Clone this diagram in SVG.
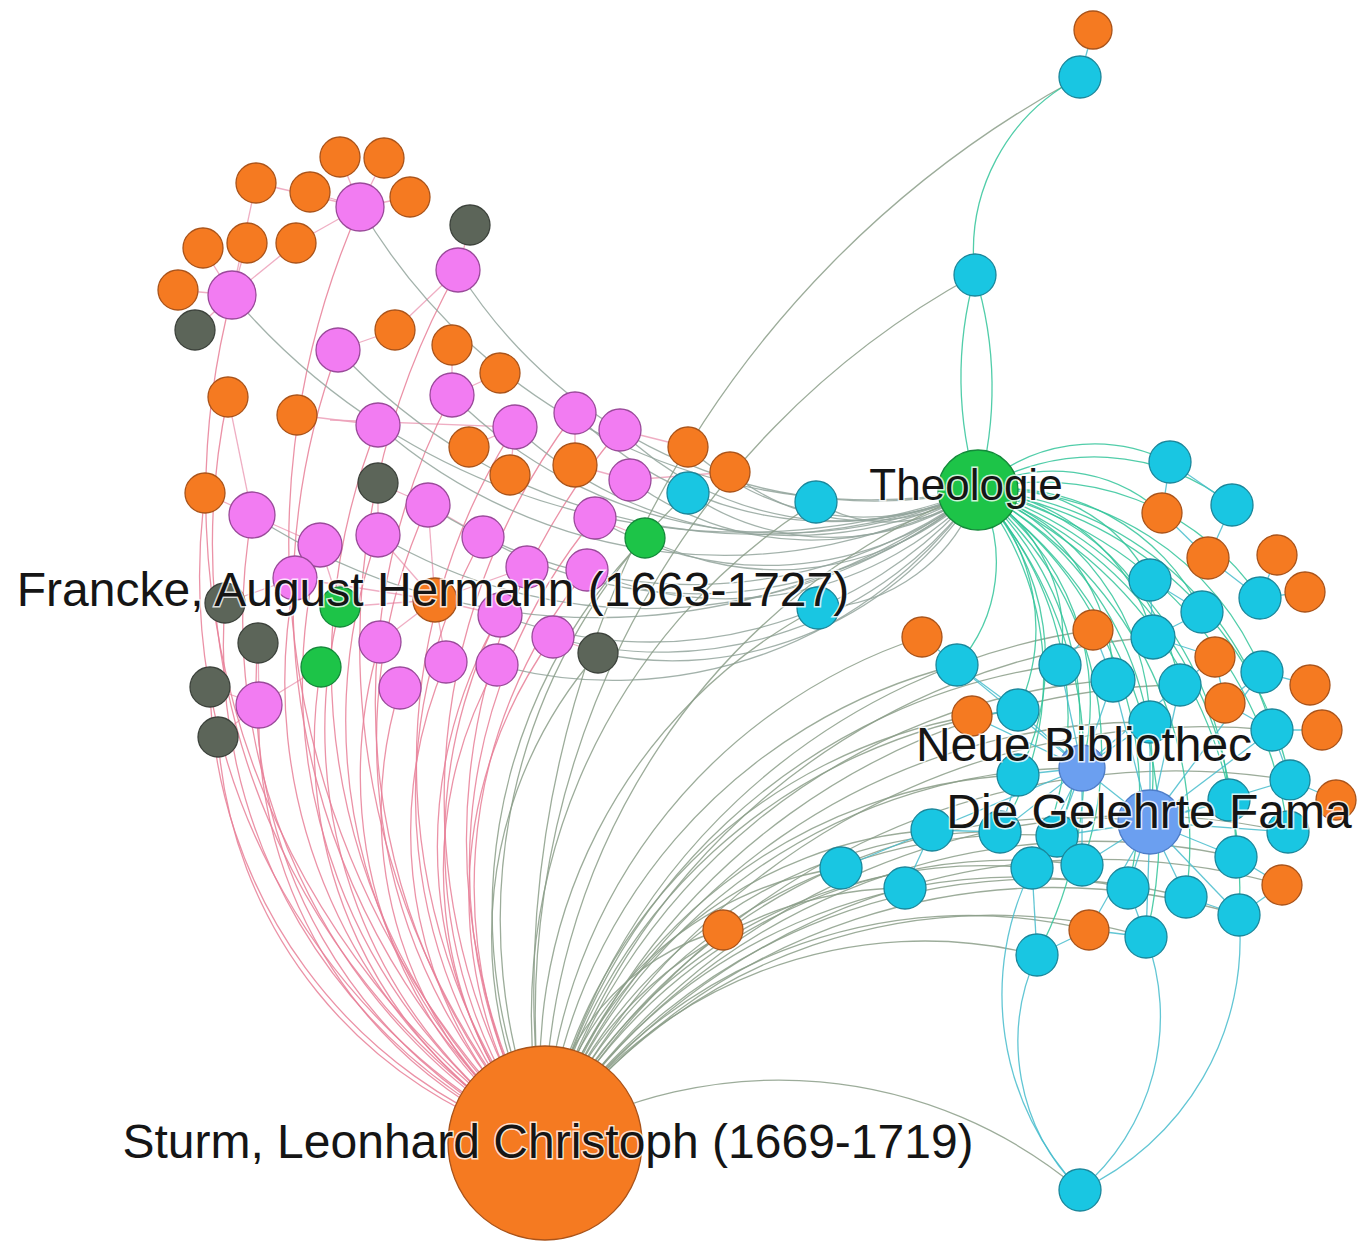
<svg xmlns="http://www.w3.org/2000/svg" width="1360" height="1246" viewBox="0 0 1360 1246">
<style>
.e path,.e line{fill:none;stroke-width:1.3;stroke-opacity:.85}
.ps{stroke:#e77f98}
.sg{stroke:#8b9d88}
.tt{stroke:#33c49a}
.tg{stroke:#93a59c}
.cc{stroke:#47bccc}
.pp{stroke:#eca0b8}
.or{fill:#f57a21;stroke:#a9531a;stroke-width:1.3}
.pk{fill:#f27cf2;stroke:#9a4a9a;stroke-width:1.3}
.cy{fill:#19c6e2;stroke:#1a879b;stroke-width:1.3}
.dk{fill:#5c6559;stroke:#3c423b;stroke-width:1.3}
.gr{fill:#1dc448;stroke:#14893a;stroke-width:1.3}
.bl{fill:#6b9ff0;stroke:#4d7cc7;stroke-width:1.3}
.lb{font-family:"Liberation Sans",Arial,sans-serif;font-size:48px;fill:#151515;stroke:#fff;stroke-width:3;stroke-opacity:.8;paint-order:stroke;text-anchor:middle}
</style>
<rect width="1360" height="1246" fill="#fff"/>
<g id="connectors" class="e">
<g class="pp">
<line x1="340" y1="157" x2="360" y2="207"/><line x1="384" y1="158" x2="360" y2="207"/><line x1="310" y1="192" x2="360" y2="207"/><line x1="410" y1="197" x2="360" y2="207"/><line x1="256" y1="183" x2="360" y2="207"/><line x1="296" y1="243" x2="360" y2="207"/>
<line x1="203" y1="248" x2="232" y2="295"/><line x1="247" y1="243" x2="232" y2="295"/><line x1="296" y1="243" x2="232" y2="295"/><line x1="178" y1="290" x2="232" y2="295"/><line x1="195" y1="330" x2="232" y2="295"/><line x1="256" y1="183" x2="232" y2="295"/>
<line x1="470" y1="225" x2="458" y2="270"/><line x1="395" y1="330" x2="338" y2="350"/><line x1="395" y1="330" x2="458" y2="270"/><line x1="452" y1="345" x2="452" y2="395"/><line x1="500" y1="373" x2="452" y2="395"/><line x1="297" y1="415" x2="378" y2="425"/>
<line x1="228" y1="397" x2="252" y2="515"/><line x1="205" y1="493" x2="252" y2="515"/><line x1="469" y1="447" x2="515" y2="427"/><line x1="510" y1="475" x2="515" y2="427"/><line x1="575" y1="465" x2="575" y2="413"/><line x1="575" y1="465" x2="630" y2="480"/>
<line x1="688" y1="447" x2="620" y2="430"/><line x1="730" y1="472" x2="630" y2="480"/><line x1="378" y1="483" x2="378" y2="535"/><line x1="378" y1="483" x2="428" y2="505"/><line x1="428" y1="505" x2="483" y2="537"/>
<line x1="435" y1="600" x2="500" y2="615"/><line x1="435" y1="600" x2="380" y2="642"/><line x1="435" y1="600" x2="446" y2="662"/><line x1="435" y1="600" x2="527" y2="567"/><line x1="435" y1="600" x2="378" y2="535"/><line x1="435" y1="600" x2="428" y2="505"/><line x1="435" y1="600" x2="295" y2="578"/><line x1="435" y1="600" x2="340" y2="607"/>
<line x1="225" y1="603" x2="295" y2="578"/><line x1="258" y1="643" x2="259" y2="705"/><line x1="210" y1="687" x2="259" y2="705"/><line x1="218" y1="737" x2="259" y2="705"/><line x1="321" y1="667" x2="259" y2="705"/><line x1="645" y1="538" x2="595" y2="518"/><line x1="598" y1="653" x2="553" y2="637"/><line x1="320" y1="545" x2="340" y2="607"/><line x1="252" y1="515" x2="320" y2="545"/><line x1="330" y1="420" x2="515" y2="427"/>
</g>
<g class="ps">
<path d="M545 1143A830 830 0 0 1 360 207"/><path d="M545 1143A786 786 0 0 1 232 295"/><path d="M545 1143A763 763 0 0 1 458 270"/><path d="M545 1143A713 713 0 0 1 338 350"/><path d="M545 1143A656 656 0 0 1 452 395"/><path d="M545 1143A641 641 0 0 1 378 425"/><path d="M545 1143A624 624 0 0 1 515 427"/><path d="M545 1143A636 636 0 0 1 575 413"/><path d="M545 1143A624 624 0 0 1 620 430"/><path d="M545 1143A603 603 0 0 1 252 515"/><path d="M545 1143A565 565 0 0 1 428 505"/><path d="M545 1143A548 548 0 0 1 378 535"/><path d="M545 1143A556 556 0 0 1 320 545"/><path d="M545 1143A530 530 0 0 1 483 537"/><path d="M545 1143A545 545 0 0 1 595 518"/><path d="M545 1143A501 501 0 0 1 527 567"/><path d="M545 1143A500 500 0 0 1 587 570"/><path d="M545 1143A538 538 0 0 1 295 578"/><path d="M545 1143A461 461 0 0 1 500 615"/><path d="M545 1143A459 459 0 0 1 380 642"/><path d="M545 1143A427 427 0 0 1 446 662"/><path d="M545 1143A418 418 0 0 1 497 665"/><path d="M545 1143A440 440 0 0 1 553 637"/><path d="M545 1143A455 455 0 0 1 259 705"/><path d="M545 1143A416 416 0 0 1 400 688"/><path d="M545 1143A502 502 0 0 1 258 643"/><path d="M545 1143A492 492 0 0 1 210 687"/><path d="M545 1143A453 453 0 0 1 218 737"/><path d="M545 1143A458 458 0 0 1 321 667"/><path d="M545 1143A499 499 0 0 1 340 607"/><path d="M545 1143A546 546 0 0 1 225 603"/><path d="M545 1143A705 705 0 0 1 228 397"/><path d="M545 1143A638 638 0 0 1 205 493"/>
</g>
<g class="tg">
<path d="M978 490A592 592 0 0 1 360 207"/><path d="M978 490A671 671 0 0 1 232 295"/><path d="M978 490A491 491 0 0 1 458 270"/><path d="M978 490A570 570 0 0 1 338 350"/><path d="M978 490A465 465 0 0 1 452 395"/><path d="M978 490A525 525 0 0 1 378 425"/><path d="M978 490A406 406 0 0 1 515 427"/><path d="M978 490A357 357 0 0 1 575 413"/><path d="M978 490A316 316 0 0 1 620 430"/><path d="M978 490A303 303 0 0 1 630 480"/><path d="M978 490A632 632 0 0 1 252 515"/><path d="M978 490A479 479 0 0 1 428 505"/><path d="M978 490A524 524 0 0 1 378 535"/><path d="M978 490A432 432 0 0 1 483 537"/><path d="M978 490A334 334 0 0 1 595 518"/><path d="M978 490A347 347 0 0 1 587 570"/><path d="M978 490A255 255 0 0 1 688 447"/><path d="M978 490A217 217 0 0 1 730 472"/><path d="M978 490A252 252 0 0 1 688 493"/><path d="M978 490A141 141 0 0 1 816 502"/><path d="M978 490A292 292 0 0 1 645 538"/><path d="M978 490A173 173 0 0 1 818 608"/><path d="M978 490A391 391 0 0 1 553 637"/><path d="M978 490A359 359 0 0 1 598 653"/><path d="M978 490A430 430 0 0 1 500 615"/><path d="M978 490A445 445 0 0 1 497 665"/>
</g>
<g class="sg">
<path d="M545 1143A351 351 0 0 1 841 868"/><path d="M545 1143A384 384 0 0 1 905 888"/><path d="M545 1143A433 433 0 0 1 932 830"/><path d="M545 1143A479 479 0 0 1 1000 832"/><path d="M545 1143A519 519 0 0 1 1057 836"/><path d="M545 1143A521 521 0 0 1 1018 775"/><path d="M545 1143A558 558 0 0 1 1018 710"/><path d="M545 1143A549 549 0 0 1 957 665"/><path d="M545 1143A549 549 0 0 1 922 637"/><path d="M545 1143A525 525 0 0 1 972 716"/><path d="M545 1143A486 486 0 0 1 1032 868"/><path d="M545 1143A526 526 0 0 1 1082 865"/><path d="M545 1143A553 553 0 0 1 1128 888"/><path d="M545 1143A597 597 0 0 1 1186 897"/><path d="M545 1143A650 650 0 0 1 1236 857"/><path d="M545 1143A635 635 0 0 1 1239 915"/><path d="M545 1143A508 508 0 0 1 1089 930"/><path d="M545 1143A553 553 0 0 1 1146 937"/><path d="M545 1143A458 458 0 0 1 1037 955"/><path d="M545 1143A242 242 0 0 1 723 930"/><path d="M545 1143A570 570 0 0 1 1082 768"/><path d="M545 1143A596 596 0 0 1 1150 822"/><path d="M545 1143A611 611 0 0 1 1060 665"/><path d="M545 1143A637 637 0 0 1 1113 680"/><path d="M545 1143A641 641 0 0 1 1150 722"/><path d="M545 1143A523 523 0 0 1 818 608"/><path d="M545 1143A605 605 0 0 1 816 502"/><path d="M545 1143A579 579 0 0 1 688 493"/><path d="M545 1143A429 429 0 0 1 598 653"/><path d="M545 1143A1038 1038 0 0 1 1080 77"/><path d="M545 1143A843 843 0 0 1 975 275"/><path d="M545 1143A467 467 0 0 1 1080 1190"/><path d="M545 1143A679 679 0 0 1 1282 885"/><path d="M545 1143A700 700 0 0 1 1288 832"/><path d="M545 1143A721 721 0 0 1 1290 780"/><path d="M545 1143A727 727 0 0 1 1272 730"/><path d="M545 1143A681 681 0 0 1 1180 685"/><path d="M545 1143A688 688 0 0 1 1153 637"/><path d="M545 1143A653 653 0 0 1 1093 630"/><path d="M545 1143A533 533 0 0 1 645 538"/><path d="M545 1143A682 682 0 0 1 978 490"/>
</g>
<g class="tt">
<path d="M978 490A169 169 0 0 1 1170 462"/><path d="M978 490A221 221 0 0 1 1232 505"/><path d="M978 490A161 161 0 0 1 1162 513"/><path d="M978 490A169 169 0 0 1 1150 580"/><path d="M978 490A222 222 0 0 1 1202 612"/><path d="M978 490A263 263 0 0 1 1260 598"/><path d="M978 490A199 199 0 0 1 1153 637"/><path d="M978 490A168 168 0 0 1 1060 665"/><path d="M978 490A203 203 0 0 1 1113 680"/><path d="M978 490A244 244 0 0 1 1180 685"/><path d="M978 490A293 293 0 0 1 1262 672"/><path d="M978 490A195 195 0 0 1 1018 710"/><path d="M978 490A251 251 0 0 1 1150 722"/><path d="M978 490A330 330 0 0 1 1272 730"/><path d="M978 490A371 371 0 0 1 1290 780"/><path d="M978 490A347 347 0 0 1 1229 800"/><path d="M978 490A402 402 0 0 1 1288 832"/><path d="M978 490A390 390 0 0 1 1236 857"/><path d="M978 490A398 398 0 0 1 1186 897"/><path d="M978 490A370 370 0 0 1 1128 888"/><path d="M978 490A434 434 0 0 1 1239 915"/><path d="M978 490A416 416 0 0 1 1146 937"/><path d="M978 490A338 338 0 0 1 1082 865"/><path d="M978 490A332 332 0 0 1 1032 868"/><path d="M978 490A153 153 0 0 1 957 665"/><path d="M978 490A258 258 0 0 1 1082 768"/><path d="M978 490A325 325 0 0 1 1150 822"/><path d="M978 490A250 250 0 0 1 1018 775"/><path d="M978 490A298 298 0 0 1 1000 832"/><path d="M978 490A309 309 0 0 1 1057 836"/><path d="M978 490A408 408 0 0 1 1037 955"/><path d="M978 490A380 380 0 0 1 975 275"/><path d="M975 275A380 380 0 0 1 978 490"/><path d="M975 275A195 195 0 0 1 1080 77"/>
</g>
<g class="cc">
<line x1="1080" y1="77" x2="1093" y2="30"/>
<line x1="1170" y1="462" x2="1162" y2="513"/><line x1="1170" y1="462" x2="1232" y2="505"/><line x1="1232" y1="505" x2="1208" y2="558"/><line x1="1162" y1="513" x2="1208" y2="558"/><line x1="1208" y1="558" x2="1260" y2="598"/><line x1="1277" y1="555" x2="1260" y2="598"/><line x1="1305" y1="592" x2="1260" y2="598"/><line x1="1150" y1="580" x2="1202" y2="612"/><line x1="1202" y1="612" x2="1153" y2="637"/><line x1="1150" y1="580" x2="1153" y2="637"/>
<line x1="1093" y1="630" x2="1113" y2="680"/><line x1="1093" y1="630" x2="1060" y2="665"/><line x1="922" y1="637" x2="957" y2="665"/><line x1="1153" y1="637" x2="1215" y2="657"/><line x1="1215" y1="657" x2="1180" y2="685"/><line x1="1215" y1="657" x2="1225" y2="703"/><line x1="1262" y1="672" x2="1310" y2="685"/><line x1="1262" y1="672" x2="1225" y2="703"/><line x1="1225" y1="703" x2="1272" y2="730"/><line x1="1272" y1="730" x2="1322" y2="730"/><line x1="1272" y1="730" x2="1290" y2="780"/><line x1="1290" y1="780" x2="1336" y2="800"/><line x1="972" y1="716" x2="1018" y2="710"/><line x1="957" y1="665" x2="1018" y2="710"/>
<line x1="1082" y1="768" x2="1060" y2="665"/><line x1="1082" y1="768" x2="1113" y2="680"/><line x1="1082" y1="768" x2="1018" y2="710"/><line x1="1082" y1="768" x2="1150" y2="722"/><line x1="1082" y1="768" x2="1018" y2="775"/><line x1="1082" y1="768" x2="1000" y2="832"/><line x1="1082" y1="768" x2="1057" y2="836"/><line x1="1082" y1="768" x2="1032" y2="868"/><line x1="1082" y1="768" x2="1082" y2="865"/><line x1="1082" y1="768" x2="1150" y2="822"/><line x1="1082" y1="768" x2="1180" y2="685"/><line x1="1082" y1="768" x2="957" y2="665"/><line x1="1082" y1="768" x2="932" y2="830"/><line x1="1082" y1="768" x2="972" y2="716"/>
<line x1="1150" y1="822" x2="1150" y2="722"/><line x1="1150" y1="822" x2="1180" y2="685"/><line x1="1150" y1="822" x2="1229" y2="800"/><line x1="1150" y1="822" x2="1288" y2="832"/><line x1="1150" y1="822" x2="1128" y2="888"/><line x1="1150" y1="822" x2="1186" y2="897"/><line x1="1150" y1="822" x2="1236" y2="857"/><line x1="1150" y1="822" x2="1082" y2="865"/><line x1="1150" y1="822" x2="1146" y2="937"/><line x1="1150" y1="822" x2="1057" y2="836"/><line x1="1150" y1="822" x2="1290" y2="780"/><line x1="1150" y1="822" x2="1272" y2="730"/><line x1="1150" y1="822" x2="1262" y2="672"/><line x1="1150" y1="822" x2="1113" y2="680"/><line x1="1150" y1="822" x2="1089" y2="930"/><line x1="1150" y1="822" x2="1239" y2="915"/>
<line x1="1236" y1="857" x2="1282" y2="885"/><line x1="1282" y1="885" x2="1239" y2="915"/><line x1="1186" y1="897" x2="1239" y2="915"/><line x1="1089" y1="930" x2="1146" y2="937"/><line x1="1089" y1="930" x2="1037" y2="955"/><line x1="1032" y1="868" x2="1037" y2="955"/><line x1="932" y1="830" x2="1000" y2="832"/><line x1="841" y1="868" x2="932" y2="830"/><line x1="905" y1="888" x2="932" y2="830"/><line x1="1128" y1="888" x2="1146" y2="937"/><line x1="1018" y1="775" x2="1000" y2="832"/>
<path d="M1080 1190A283 283 0 0 1 1032 868"/><path d="M1080 1190A208 208 0 0 1 1037 955"/><path d="M1146 937A227 227 0 0 1 1080 1190"/><path d="M1239 915A276 276 0 0 1 1080 1190"/>
</g>
</g>
<g id="nodes">
<g id="n-o1"><circle class="or" cx="340" cy="157" r="20"/></g>
<g id="n-o2"><circle class="or" cx="384" cy="158" r="20"/></g>
<g id="n-o3"><circle class="or" cx="256" cy="183" r="20"/></g>
<g id="n-o4"><circle class="or" cx="310" cy="192" r="20"/></g>
<g id="n-o5"><circle class="or" cx="410" cy="197" r="20"/></g>
<g id="n-p1"><circle class="pk" cx="360" cy="207" r="24"/></g>
<g id="n-o6"><circle class="or" cx="203" cy="248" r="20"/></g>
<g id="n-o7"><circle class="or" cx="247" cy="243" r="20"/></g>
<g id="n-o8"><circle class="or" cx="296" cy="243" r="20"/></g>
<g id="n-o9"><circle class="or" cx="178" cy="290" r="20"/></g>
<g id="n-p2"><circle class="pk" cx="232" cy="295" r="24"/></g>
<g id="n-d1"><circle class="dk" cx="470" cy="225" r="20"/></g>
<g id="n-p3"><circle class="pk" cx="458" cy="270" r="22"/></g>
<g id="n-d2"><circle class="dk" cx="195" cy="330" r="20"/></g>
<g id="n-o10"><circle class="or" cx="395" cy="330" r="20"/></g>
<g id="n-p4"><circle class="pk" cx="338" cy="350" r="22"/></g>
<g id="n-o11"><circle class="or" cx="452" cy="345" r="20"/></g>
<g id="n-o12"><circle class="or" cx="500" cy="373" r="20"/></g>
<g id="n-o13"><circle class="or" cx="228" cy="397" r="20"/></g>
<g id="n-o14"><circle class="or" cx="297" cy="415" r="20"/></g>
<g id="n-p5"><circle class="pk" cx="452" cy="395" r="22"/></g>
<g id="n-p6"><circle class="pk" cx="378" cy="425" r="22"/></g>
<g id="n-p7"><circle class="pk" cx="515" cy="427" r="22"/></g>
<g id="n-p8"><circle class="pk" cx="575" cy="413" r="21"/></g>
<g id="n-p9"><circle class="pk" cx="620" cy="430" r="21"/></g>
<g id="n-o15"><circle class="or" cx="469" cy="447" r="20"/></g>
<g id="n-o16"><circle class="or" cx="688" cy="447" r="20"/></g>
<g id="n-o17"><circle class="or" cx="730" cy="472" r="20"/></g>
<g id="n-d3"><circle class="dk" cx="378" cy="483" r="20"/></g>
<g id="n-o18"><circle class="or" cx="510" cy="475" r="20"/></g>
<g id="n-o19"><circle class="or" cx="575" cy="465" r="22"/></g>
<g id="n-p10"><circle class="pk" cx="630" cy="480" r="21"/></g>
<g id="n-c1"><circle class="cy" cx="688" cy="493" r="21"/></g>
<g id="n-c2"><circle class="cy" cx="816" cy="502" r="21"/></g>
<g id="n-o20"><circle class="or" cx="205" cy="493" r="20"/></g>
<g id="n-p11"><circle class="pk" cx="252" cy="515" r="23"/></g>
<g id="n-p12"><circle class="pk" cx="428" cy="505" r="22"/></g>
<g id="n-p13"><circle class="pk" cx="378" cy="535" r="22"/></g>
<g id="n-p14"><circle class="pk" cx="320" cy="545" r="22"/></g>
<g id="n-p15"><circle class="pk" cx="483" cy="537" r="21"/></g>
<g id="n-p16"><circle class="pk" cx="595" cy="518" r="21"/></g>
<g id="n-g1"><circle class="gr" cx="645" cy="538" r="20"/></g>
<g id="n-p17"><circle class="pk" cx="527" cy="567" r="21"/></g>
<g id="n-p18"><circle class="pk" cx="587" cy="570" r="21"/></g>
<g id="n-p19"><circle class="pk" cx="295" cy="578" r="22"/></g>
<g id="n-d4"><circle class="dk" cx="225" cy="603" r="20"/></g>
<g id="n-g2"><circle class="gr" cx="340" cy="607" r="20"/></g>
<g id="n-francke"><circle class="or" cx="435" cy="600" r="22"/></g>
<g id="n-p20"><circle class="pk" cx="500" cy="615" r="22"/></g>
<g id="n-c3"><circle class="cy" cx="818" cy="608" r="21"/></g>
<g id="n-d5"><circle class="dk" cx="258" cy="643" r="20"/></g>
<g id="n-p21"><circle class="pk" cx="380" cy="642" r="21"/></g>
<g id="n-p22"><circle class="pk" cx="446" cy="662" r="21"/></g>
<g id="n-p23"><circle class="pk" cx="497" cy="665" r="21"/></g>
<g id="n-p24"><circle class="pk" cx="553" cy="637" r="21"/></g>
<g id="n-d6"><circle class="dk" cx="598" cy="653" r="20"/></g>
<g id="n-g3"><circle class="gr" cx="321" cy="667" r="20"/></g>
<g id="n-d7"><circle class="dk" cx="210" cy="687" r="20"/></g>
<g id="n-p25"><circle class="pk" cx="259" cy="705" r="23"/></g>
<g id="n-p26"><circle class="pk" cx="400" cy="688" r="21"/></g>
<g id="n-d8"><circle class="dk" cx="218" cy="737" r="20"/></g>
<g id="n-oT"><circle class="or" cx="1093" cy="30" r="19"/></g>
<g id="n-cT"><circle class="cy" cx="1080" cy="77" r="21"/></g>
<g id="n-cT2"><circle class="cy" cx="975" cy="275" r="21"/></g>
<g id="n-r1"><circle class="cy" cx="1170" cy="462" r="21"/></g>
<g id="n-r2"><circle class="cy" cx="1232" cy="505" r="21"/></g>
<g id="n-r3"><circle class="or" cx="1162" cy="513" r="20"/></g>
<g id="n-r4"><circle class="or" cx="1208" cy="558" r="21"/></g>
<g id="n-r5"><circle class="or" cx="1277" cy="555" r="20"/></g>
<g id="n-r6"><circle class="cy" cx="1150" cy="580" r="21"/></g>
<g id="n-r7"><circle class="cy" cx="1202" cy="612" r="21"/></g>
<g id="n-r8"><circle class="or" cx="1305" cy="592" r="20"/></g>
<g id="n-r9"><circle class="cy" cx="1260" cy="598" r="21"/></g>
<g id="n-r10"><circle class="or" cx="1093" cy="630" r="20"/></g>
<g id="n-r11"><circle class="or" cx="922" cy="637" r="20"/></g>
<g id="n-r12"><circle class="cy" cx="1153" cy="637" r="22"/></g>
<g id="n-r13"><circle class="or" cx="1215" cy="657" r="20"/></g>
<g id="n-r14"><circle class="cy" cx="957" cy="665" r="21"/></g>
<g id="n-r15"><circle class="cy" cx="1060" cy="665" r="21"/></g>
<g id="n-r16"><circle class="cy" cx="1113" cy="680" r="22"/></g>
<g id="n-r17"><circle class="cy" cx="1180" cy="685" r="21"/></g>
<g id="n-r18"><circle class="cy" cx="1262" cy="672" r="21"/></g>
<g id="n-r19"><circle class="or" cx="1310" cy="685" r="20"/></g>
<g id="n-r20"><circle class="or" cx="972" cy="716" r="20"/></g>
<g id="n-r21"><circle class="cy" cx="1018" cy="710" r="21"/></g>
<g id="n-r22"><circle class="cy" cx="1150" cy="722" r="21"/></g>
<g id="n-r23"><circle class="or" cx="1225" cy="703" r="20"/></g>
<g id="n-r24"><circle class="cy" cx="1272" cy="730" r="21"/></g>
<g id="n-r25"><circle class="or" cx="1322" cy="730" r="20"/></g>
<g id="n-r26"><circle class="cy" cx="1018" cy="775" r="21"/></g>
<g id="n-r28"><circle class="cy" cx="1290" cy="780" r="20"/></g>
<g id="n-r29"><circle class="or" cx="1336" cy="800" r="20"/></g>
<g id="n-r30"><circle class="cy" cx="932" cy="830" r="21"/></g>
<g id="n-r31"><circle class="cy" cx="1000" cy="832" r="21"/></g>
<g id="n-r32"><circle class="cy" cx="1057" cy="836" r="21"/></g>
<g id="n-r33"><circle class="cy" cx="1229" cy="800" r="21"/></g>
<g id="n-r34"><circle class="cy" cx="1288" cy="832" r="21"/></g>
<g id="n-r35"><circle class="cy" cx="841" cy="868" r="21"/></g>
<g id="n-r36"><circle class="cy" cx="905" cy="888" r="21"/></g>
<g id="n-r37"><circle class="cy" cx="1032" cy="868" r="21"/></g>
<g id="n-r38"><circle class="cy" cx="1082" cy="865" r="21"/></g>
<g id="n-r39"><circle class="cy" cx="1128" cy="888" r="21"/></g>
<g id="n-r40"><circle class="cy" cx="1186" cy="897" r="21"/></g>
<g id="n-r41"><circle class="cy" cx="1236" cy="857" r="21"/></g>
<g id="n-r42"><circle class="or" cx="1282" cy="885" r="20"/></g>
<g id="n-r43"><circle class="cy" cx="1239" cy="915" r="21"/></g>
<g id="n-r44"><circle class="or" cx="1089" cy="930" r="20"/></g>
<g id="n-r45"><circle class="cy" cx="1146" cy="937" r="21"/></g>
<g id="n-r46"><circle class="cy" cx="1037" cy="955" r="21"/></g>
<g id="n-ofar"><circle class="or" cx="723" cy="930" r="20"/></g>
<g id="n-cB"><circle class="cy" cx="1080" cy="1190" r="21"/></g>
<g id="n-neue"><circle class="bl" cx="1082" cy="768" r="23"/></g>
<g id="n-fama"><circle class="bl" cx="1150" cy="822" r="32"/></g>
<g id="n-theologie"><circle class="gr" cx="978" cy="490" r="40"/></g>
<g id="n-sturm"><circle class="or" cx="545" cy="1143" r="97"/></g>
</g>
<g id="labels">
<text class="lb" x="433" y="606">Francke, August Hermann (1663-1727)</text>
<text class="lb" x="966" y="500" style="font-size:44px">Theologie</text>
<text class="lb" x="1084" y="761">Neue Bibliothec</text>
<text class="lb" x="1149" y="828">Die Gelehrte Fama</text>
<text class="lb" x="548" y="1158">Sturm, Leonhard Christoph (1669-1719)</text>
</g>
</svg>
